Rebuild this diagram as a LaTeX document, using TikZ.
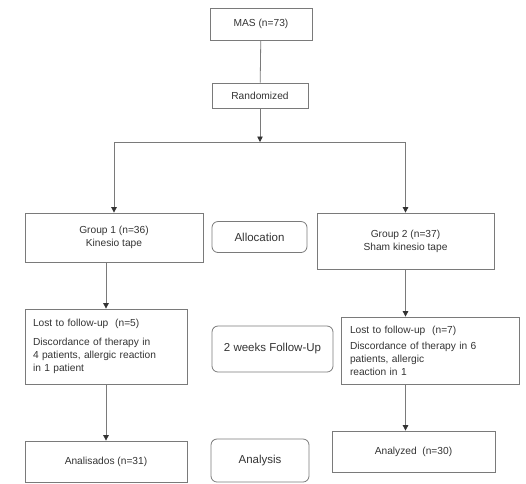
\documentclass[tikz,border=0pt]{standalone}
\usepackage{fontspec}
\setmainfont{Liberation Sans}
\usepackage{xcolor}
\usetikzlibrary{arrows.meta}
\definecolor{linegray}{HTML}{7A7A7A}
\definecolor{textgray}{HTML}{333333}
\tikzset{
  flowbox/.style={draw=linegray, line width=0.8pt, inner sep=0pt, align=center,
    text=textgray, font=\fontsize{10.2}{13}\selectfont},
  stagebox/.style={draw=linegray, line width=0.8pt, rounded corners=6pt, inner sep=0pt,
    text=textgray, font=\fontsize{11.5}{14}\selectfont},
  flowarrow/.style={draw=linegray, line width=0.8pt,
    -{Triangle[length=5.5pt,width=5.5pt,color=textgray]}}
}
\begin{document}
\begin{tikzpicture}[x=1pt, y=-1pt]
			\useasboundingbox (0, 0) rectangle (526, 483);
			
			% Top of the chart
			\node[flowbox, minimum width=102pt, minimum height=32pt] (mas) at (261, 24) {MAS (n=73)};
			\node[flowbox, minimum width=96pt, minimum height=25pt] (rand) at (260, 95.5) {Randomized};
			\coordinate (split) at (260, 142);
			
			% Groups
			\node[flowbox, minimum width=178pt, minimum height=49pt] (grp1) at (114, 237.5) {Group 1 (n=36)\\Kinesio tape};
			\node[flowbox, minimum width=177pt, minimum height=56pt] (grp2) at (405.5, 241) {Group 2 (n=37)\\Sham kinesio tape};
			
			% Follow-up
			\node[flowbox, minimum width=162pt, minimum height=75pt, align=left, text width=146pt] (lost1) at (106, 346.5)
			  {Lost to follow-up\ \ (n=5)\\[6pt]Discordance of therapy in\\4 patients, allergic reaction\\in 1 patient};
			\node[flowbox, minimum width=178pt, minimum height=67pt, align=left, text width=160pt] (lost2) at (430, 350.5)
			  {Lost to follow-up\ \ (n=7)\\[3pt]Discordance of therapy in 6\\patients, allergic\\reaction in 1};
			
			% Analysis
			\node[flowbox, minimum width=162pt, minimum height=41pt] (ana1) at (106, 461.5) {Analisados (n=31)};
			\node[flowbox, minimum width=163pt, minimum height=41pt] (ana2) at (413.5, 451.5) {Analyzed\ \ (n=30)};
			
			% Stages
			\node[stagebox, minimum width=95pt, minimum height=31pt] (alloc) at (259.5, 237) {Allocation};
			\node[stagebox, minimum width=121pt, minimum height=46pt] (weeks) at (272.5, 349) {2 weeks Follow-Up};
			\node[stagebox, minimum width=98pt, minimum height=43pt] (analysis) at (260, 460.5) {Analysis};
			
			% Connectors
			\draw[draw=linegray, line width=0.8pt] (mas) -- (rand);
			\draw[flowarrow] (rand) -- (split);
			\draw[flowarrow] (split) -| (grp1.north);
			\draw[flowarrow] (split) -| (grp2.north);
			\draw[flowarrow] (lost1.north |- grp1.south) -- (lost1.north);
			\draw[flowarrow] (grp2.south) -- (grp2.south |- lost2.north);
			\draw[flowarrow] (lost1) -- (ana1);
			\draw[flowarrow] (grp2.south |- lost2.south) -- (grp2.south |- ana2.north);
		\end{tikzpicture}
\end{document}
